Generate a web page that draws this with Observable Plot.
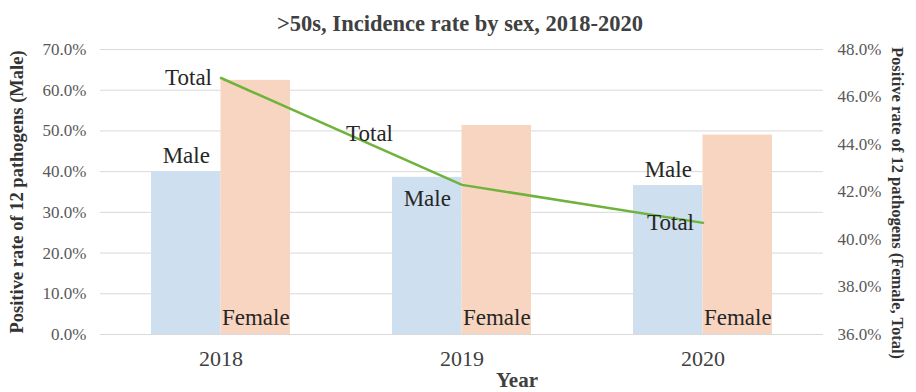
<!DOCTYPE html>
<html>
<head>
<meta charset="utf-8">
<script src="https://cdn.jsdelivr.net/npm/d3@7"></script>
<script src="https://cdn.jsdelivr.net/npm/@observablehq/plot@0.6"></script>
<style>
  html, body { margin: 0; padding: 0; background: #fff; }
  #chart svg { display: block; }
</style>
</head>
<body>
<div id="chart"></div>
<script>
// Positive rate (%) of 12 pathogens among people over 50, by year and sex
const years = ["2018", "2019", "2020"];
const male = [40.0, 38.6, 36.6];     // left axis
const female = [46.7, 44.8, 44.4];   // right axis
const total = [46.8, 42.3, 40.7];    // right axis

const leftTicks = [0, 10, 20, 30, 40, 50, 60, 70];
const rightTicks = [36, 38, 40, 42, 44, 46, 48];

// Where each data label sits relative to its mark
const maleLabelPos = ["above", "inside", "above"];
const totalLabelPos = ["left", "upper-left", "left"];

const rows = years.map((year, i) => ({year, male: male[i], female: female[i], total: total[i]}));

// The right axis (36–48%) is mapped onto the left axis range (0–70%)
const leftMin = 0, leftMax = 70, rightMin = 36, rightMax = 48;
const toLeft = v => (v - rightMin) / (rightMax - rightMin) * (leftMax - leftMin) + leftMin;
const fromLeft = v => (v - leftMin) / (leftMax - leftMin) * (rightMax - rightMin) + rightMin;

const width = 916, height = 392;
const margin = {top: 49, right: 93, bottom: 58, left: 100};
const band = (width - margin.left - margin.right) / years.length;
const barW = 69.5;

const serif = "'Liberation Serif', 'Times New Roman', serif";
const labelFont = 23;
const labelColor = "#262626";

const maleOffsets = {above: 16, inside: -21};
const totalOffsets = {left: {dx: -9, dy: 0}, "upper-left": {dx: -69, dy: -51}};

const maleLabels = rows.map((d, i) => Plot.text([d], {
  x: "year", y: "male", text: () => "Male",
  dx: -barW / 2, dy: -maleOffsets[maleLabelPos[i]],
  fontSize: labelFont, fill: labelColor, lineAnchor: "middle"
}));

const totalLabels = rows.map((d, i) => Plot.text([d], {
  x: "year", y: r => toLeft(r.total), text: () => "Total",
  dx: totalOffsets[totalLabelPos[i]].dx, dy: totalOffsets[totalLabelPos[i]].dy,
  textAnchor: "end", fontSize: labelFont, fill: labelColor, lineAnchor: "middle"
}));

const chart = Plot.plot({
  width, height,
  marginTop: margin.top, marginRight: margin.right,
  marginBottom: margin.bottom, marginLeft: margin.left,
  style: {fontFamily: serif, background: "#fff"},
  x: {domain: years, padding: 0},
  y: {domain: [leftMin, leftMax]},
  marks: [
    Plot.gridY(leftTicks, {stroke: "#d9d9d9", strokeOpacity: 1, strokeWidth: 1}),
    Plot.barY(rows, {x: "year", y: "male", fill: "#cedff0",
      insetLeft: band / 2 - barW, insetRight: band / 2}),
    Plot.barY(rows, {x: "year", y: d => toLeft(d.female), fill: "#f8d5c0",
      insetLeft: band / 2, insetRight: band / 2 - barW}),
    Plot.line(rows, {x: "year", y: d => toLeft(d.total), stroke: "#6fb23c", strokeWidth: 2.5}),
    ...maleLabels,
    ...totalLabels,
    Plot.text(rows, {x: "year", y: () => 0, text: () => "Female", dx: barW / 2, dy: -17,
      fontSize: labelFont, fill: labelColor, lineAnchor: "middle"}),
    Plot.axisY(leftTicks, {anchor: "left", tickSize: 0, tickPadding: 14, label: null,
      tickFormat: d => d.toFixed(1) + "%", fontSize: 17, color: "#595959"}),
    Plot.axisY(rightTicks.map(toLeft), {anchor: "right", tickSize: 0, tickPadding: 14, label: null,
      tickFormat: d => fromLeft(d).toFixed(1) + "%", fontSize: 17, color: "#595959"}),
    Plot.axisX({tickSize: 0, tickPadding: 16, label: null, fontSize: 22, color: "#404040"}),
    Plot.text([">50s, Incidence rate by sex, 2018-2020"], {frameAnchor: "top", dy: -26, dx: -2,
      fontSize: 22.5, fontWeight: "bold", fill: "#404040", lineAnchor: "middle"}),
    Plot.text(["Year"], {frameAnchor: "bottom", dy: 46, dx: 55,
      fontSize: 21, fontWeight: "bold", fill: "#404040", lineAnchor: "middle"}),
    Plot.text(["Positive rate of 12 pathogens (Male)"], {frameAnchor: "left", dx: -83, dy: 0, rotate: -90,
      textAnchor: "middle", fontSize: 18.5, fontWeight: "bold", fill: "#333333", lineAnchor: "middle"}),
    Plot.text(["Positive rate of 12 pathogens (Female, Total)"], {frameAnchor: "right", dx: 74, dy: 11, rotate: 90,
      textAnchor: "middle", fontSize: 16.5, fontWeight: "bold", fill: "#333333", lineAnchor: "middle"})
  ]
});

document.getElementById("chart").appendChild(chart);
</script>
</body>
</html>
